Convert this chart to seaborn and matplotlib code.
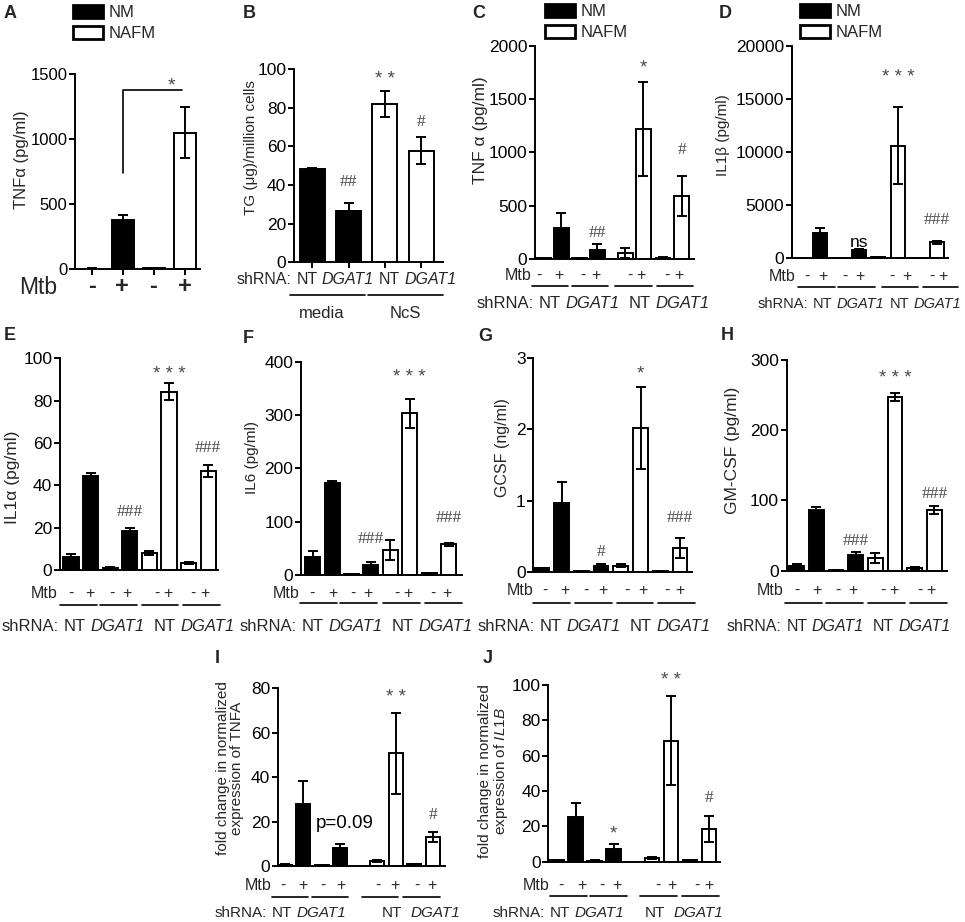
import numpy as np
import pandas as pd
import matplotlib
matplotlib.use("Agg")
import matplotlib.pyplot as plt
import matplotlib.transforms as mtransforms
from matplotlib.lines import Line2D
from matplotlib.patches import Patch
import seaborn as sns

sns.set_theme(style="ticks")
plt.rcParams["font.family"] = ["Liberation Sans", "DejaVu Sans"]
plt.rcParams["mathtext.fontset"] = "custom"
plt.rcParams["mathtext.rm"] = "Liberation Sans"
plt.rcParams["mathtext.it"] = "Liberation Sans:italic"

# ---------------- data (mean and error) ----------------
media4 = ["NM", "NM", "NAFM", "NAFM"]
media8 = ["NM"] * 4 + ["NAFM"] * 4
mtb4 = ["-", "+", "-", "+"]
mtb8 = ["-", "+"] * 4
shrna = ["NT", "DGAT1", "NT", "DGAT1"]

a_values = [5, 375, 8, 1050]
a_errors = [2, 42, 3, 197]

b_values = [48.3, 26.7, 82, 57.8]
b_errors = [0.4, 4, 6.5, 7]
b_marks = ["", "##", "**", "#"]
b_mark_y = [0, 41.5, 97, 72.5]

c_values = [10, 294, 5, 85, 53, 1218, 12, 595]
c_errors = [4, 135, 2, 53, 47, 440, 4, 188]
c_marks = ["", "", "", "##", "", "*", "", "#"]
c_mark_y = [0, 0, 0, 247, 0, 1837, 0, 1023]

d_values = [50, 2420, 20, 790, 100, 10600, 30, 1510]
d_errors = [10, 470, 10, 100, 30, 3640, 10, 150]
d_marks = ["", "", "", "ns", "", "***", "", "###"]
d_mark_y = [0, 0, 0, 1450, 0, 17360, 0, 3610]

e_values = [6.3, 44.5, 1.0, 18.6, 8.2, 84.3, 3.1, 46.8]
e_errors = [1.3, 1.1, 0.2, 1.3, 1.0, 3.9, 0.5, 3.0]
e_marks = ["", "", "", "###", "", "***", "", "###"]
e_mark_y = [0, 0, 0, 27.6, 0, 94.2, 0, 57.8]

f_values = [33, 173, 2, 18.8, 47, 303, 3, 57.5]
f_errors = [12.5, 4, 0.5, 5, 19, 27, 1, 3]
f_marks = ["", "", "", "###", "", "***", "", "###"]
f_mark_y = [0, 0, 0, 67, 0, 379, 0, 106]

g_values = [0.045, 0.96, 0.005, 0.08, 0.084, 2.02, 0.01, 0.33]
g_errors = [0.01, 0.3, 0.002, 0.035, 0.02, 0.57, 0.003, 0.14]
g_marks = ["", "", "", "#", "", "*", "", "###"]
g_mark_y = [0, 0, 0, 0.27, 0, 2.84, 0, 0.75]

h_values = [7, 86, 1, 22, 17.6, 247.8, 3.3, 86]
h_errors = [2.5, 4.7, 0.5, 4.7, 7, 5.7, 1.5, 5.7]
h_marks = ["", "", "", "###", "", "***", "", "###"]
h_mark_y = [0, 0, 0, 42.7, 0, 280, 0, 109]

i_values = [0.5, 27.9, 0.3, 8.3, 2.2, 50.7, 0.9, 12.9]
i_errors = [0.2, 10.4, 0.1, 1.6, 0.4, 18.3, 0.2, 2.3]
i_marks = ["", "", "", "", "", "**", "", "#"]
i_mark_y = [0, 0, 0, 0, 0, 77.7, 0, 23]

j_values = [0.8, 25.1, 0.5, 7.4, 1.9, 68.5, 0.8, 18.5]
j_errors = [0.2, 7.9, 0.2, 2.6, 0.5, 25.3, 0.2, 7.5]
j_marks = ["", "", "", "*", "", "**", "", "#"]
j_mark_y = [0, 0, 0, 18, 0, 104.7, 0, 35.8]

# ---------------- layout ----------------
W, H = 965, 922
fig = plt.figure(figsize=(W / 100, H / 100), dpi=100)
renderer = fig.canvas.get_renderer()
# pixel coordinates, origin at top-left
T = mtransforms.Affine2D().scale(1 / W, -1 / H).translate(0, 1) + fig.transFigure

PAL = {"NM": "black", "NAFM": "white"}
LW = 1.4
GREY = "#4a4a4a"


def add_ax(l, r, t, b):
    return fig.add_axes([l / W, 1 - b / H, (r - l) / W, (b - t) / H])


def ftext(x, y, s, **kw):
    return fig.text(x, y, s, transform=T, **kw)


def fline(x0, x1, y):
    fig.add_artist(Line2D([x0, x1], [y, y], transform=T, color="black", lw=1.2))


def token_row(x, y, gaps, fontsize):
    """'shRNA: NT DGAT1 NT DGAT1' written token by token, gene names in italics."""
    space = 0.278 * fontsize * 100 / 72
    tokens = ["shRNA:"] + shrna
    for k, s in enumerate(tokens):
        t = ftext(x, y, s, ha="left", va="center", fontsize=fontsize,
                  style="italic" if "DGAT" in s else "normal")
        x += t.get_window_extent(renderer=renderer).width
        if k < len(gaps):
            x += gaps[k] * space


def bar_panel(ax, slots, values, errors, media, width, ymax, step, xlim, tick_fs=12.5):
    df = pd.DataFrame({"slot": slots, "value": values, "medium": media})
    sns.barplot(data=df, x="slot", y="value", hue="medium", palette=PAL,
                hue_order=["NM", "NAFM"], native_scale=True, width=width,
                dodge=False, errorbar=None, edgecolor="black", linewidth=LW,
                legend=False, ax=ax)
    ax.errorbar(slots, values, yerr=errors, fmt="none", ecolor="black",
                elinewidth=LW, capsize=3.5, capthick=LW, zorder=5)
    ax.set_xlim(*xlim)
    ax.set_ylim(0, ymax)
    ax.set_yticks(np.arange(0, ymax + step / 2, step))
    ax.set_xlabel("")
    ax.set_ylabel("")
    sns.despine(ax=ax)
    for sp in ("left", "bottom"):
        ax.spines[sp].set_linewidth(LW)
        ax.spines[sp].set_color("black")
    ax.tick_params(axis="y", direction="out", length=4, width=LW,
                   labelsize=tick_fs, pad=1.5, colors="black")
    ax.set_xticks([])
    ax.tick_params(axis="x", length=0, labelbottom=False)


SHIFT = mtransforms.ScaledTranslation(0, -3 / 72, fig.dpi_scale_trans)


def add_marks(ax, slots, marks, ys):
    for x, s, y in zip(slots, marks, ys):
        if not s:
            continue
        if "#" in s:
            ax.text(x, y, s, ha="center", va="center", fontsize=12.5,
                    family="Liberation Serif", color=GREY)
        elif "*" in s:
            ax.text(x, y, " ".join(s), ha="center", va="center", fontsize=13.5,
                    color=GREY, transform=ax.transData + SHIFT)
        else:
            ax.text(x, y, s, ha="center", va="center", fontsize=12.5,
                    color="black")


def mtb_rows(lay):
    ftext(lay["mtb_right"], lay["mtb_y"], "Mtb", ha="right", va="center", fontsize=11.5)
    for x, s in zip(lay["signs"], mtb8):
        ftext(x, lay["mtb_y"], s, ha="center", va="center", fontsize=11.5)
    for x0, x1 in lay["lines"]:
        fline(x0, x1, lay["line_y"])
    token_row(lay["sh_x"], lay["sh_y"], lay["sh_gaps"], lay["sh_fs"])


def legend(ax, x, y):
    handles = [Patch(facecolor="black", edgecolor="black", lw=2, label="NM"),
               Patch(facecolor="white", edgecolor="black", lw=2, label="NAFM")]
    ax.legend(handles=handles, loc="upper left", bbox_to_anchor=(x, y),
              bbox_transform=T, frameon=False, fontsize=12, handlelength=1.8,
              handleheight=0.8, handletextpad=0.35, labelspacing=0.35,
              borderpad=0, borderaxespad=0)


slots4 = [0, 1, 2, 3]
slots8 = [0, 1, 2, 3, 4, 5, 6, 7]

# ---------------- A ----------------
ax = add_ax(75, 200, 74, 269.3)
bar_panel(ax, slots4, a_values, a_errors, media4, 0.7, 1500, 500, (-0.54, 3.48), tick_fs=12)
ax.set_xticks(slots4)
ax.tick_params(axis="x", length=4, width=LW, direction="out", colors="black")
ax.plot([1, 1, 2.9], [742, 1377, 1377], color="black", lw=1.2, clip_on=False)
ax.text(2.55, 1440, "*", ha="center", va="center", fontsize=14, color=GREY,
        transform=ax.transData + SHIFT)
legend(ax, 73, 5)
ftext(22, 160, "TNFα (pg/ml)", rotation=90, ha="center", va="center", fontsize=12)
ftext(38, 287, "Mtb", ha="center", va="center", fontsize=16.5)
for x, s in zip([91.7, 122.3, 153.3, 185], mtb4):
    ftext(x, 286, s, ha="center", va="center", fontsize=17, weight="bold")

# ---------------- B ----------------
ax = add_ax(294, 443, 69.3, 262.3)
bar_panel(ax, slots4, b_values, b_errors, media4, 0.69, 100, 20, (-0.5, 3.6))
ax.set_xticks(slots4)
ax.tick_params(axis="x", length=4, width=LW, direction="out", colors="black")
add_marks(ax, slots4, b_marks, b_mark_y)
ftext(251, 148, "TG (μg)/million cells", rotation=90, ha="center", va="center", fontsize=11)
token_row(237, 279, [1, 1, 1, 1], 11.5)
fline(290, 365, 295)
fline(368, 443, 295)
ftext(322, 313, "media", ha="center", va="center", fontsize=12)
ftext(405, 313, "NcS", ha="center", va="center", fontsize=12)

# ---------------- eight-bar panels ----------------
panels = [
    dict(rect=(535, 694.3, 46, 259), slots=[0, 1, 2, 3, 4.55, 5.55, 6.65, 7.7],
         width=0.83, ymax=2000, step=500, xlim=(-0.46, 8.39),
         data=(c_values, c_errors, c_marks, c_mark_y),
         ylabel="TNF α (pg/ml)", ylab_xy=(481, 130), ylab_fs=12.5,
         letter="C", letter_xy=(479, 13), legend=(545, 4),
         mtb_right=531, mtb_y=275, signs=[539, 559.3, 583.3, 596, 630, 640.7, 666.7, 679.3],
         line_y=285.7, lines=[(532, 568), (572, 608), (615, 652), (657, 693)],
         sh_x=477, sh_y=303, sh_gaps=[1, 1, 2, 1], sh_fs=12),
    dict(rect=(791.7, 948, 45.7, 258.3), slots=slots8, width=0.72, ymax=20000,
         step=5000, xlim=(-0.46, 7.58), data=(d_values, d_errors, d_marks, d_mark_y),
         ylabel="IL1β (pg/ml)", ylab_xy=(723, 135), ylab_fs=11,
         letter="D", letter_xy=(725, 13), legend=(800, 4),
         mtb_right=795, mtb_y=276.7, signs=[807, 823, 845, 860, 892, 907, 932, 943],
         line_y=286.7, lines=[(798, 835), (838, 875), (882, 918), (923, 958)],
         sh_x=758, sh_y=304, sh_gaps=[1, 1, 1.5, 1], sh_fs=10.5),
    dict(rect=(60, 218, 358.3, 570), slots=slots8, width=0.77, ymax=100, step=20,
         xlim=(-0.56, 7.5), data=(e_values, e_errors, e_marks, e_mark_y),
         ylabel="IL1α (pg/ml)", ylab_xy=(13, 477), ylab_fs=12.5,
         letter="E", letter_xy=(10, 335), legend=None,
         mtb_right=58, mtb_y=593.3, signs=[71, 90, 112, 127, 157, 168, 193, 205],
         line_y=605, lines=[(60, 97), (100, 137), (142, 178), (183, 220)],
         sh_x=2, sh_y=626, sh_gaps=[1, 1, 2, 1], sh_fs=12),
    dict(rect=(301, 461.7, 361.7, 575), slots=slots8, width=0.77, ymax=400, step=100,
         xlim=(-0.6, 7.68), data=(f_values, f_errors, f_marks, f_mark_y),
         ylabel="IL6 (pg/ml)", ylab_xy=(252, 457), ylab_fs=11,
         letter="F", letter_xy=(248, 338), legend=None,
         mtb_right=300, mtb_y=593.3, signs=[311.7, 332.7, 353, 367.7, 396.7, 408, 433, 446.7],
         line_y=603, lines=[(300, 337), (340, 377), (383, 420), (425, 462)],
         sh_x=240, sh_y=626, sh_gaps=[1, 1, 2, 1], sh_fs=12),
    dict(rect=(533.3, 691.7, 358.3, 571.7), slots=slots8, width=0.74, ymax=3, step=1,
         xlim=(-0.43, 7.59), data=(g_values, g_errors, g_marks, g_mark_y),
         ylabel="GCSF (ng/ml)", ylab_xy=(503, 448), ylab_fs=11.5,
         letter="G", letter_xy=(485, 336), legend=None,
         mtb_right=533, mtb_y=590, signs=[545, 565, 586, 602.7, 626.7, 643, 666.7, 680],
         line_y=603, lines=[(533, 570), (575, 612), (617, 653), (658, 695)],
         sh_x=478, sh_y=626, sh_gaps=[1, 1, 2, 1], sh_fs=12),
    dict(rect=(786.7, 946.7, 360, 570.7), slots=slots8, width=0.75, ymax=300, step=100,
         xlim=(-0.51, 7.63), data=(h_values, h_errors, h_marks, h_mark_y),
         ylabel="GM-CSF (pg/ml)", ylab_xy=(733, 450), ylab_fs=12.5,
         letter="H", letter_xy=(727, 335), legend=None,
         mtb_right=783, mtb_y=590, signs=[796.7, 816.7, 838, 853, 883, 894, 920, 930.7],
         line_y=603, lines=[(785, 822), (826, 863), (868, 905), (910, 947)],
         sh_x=727, sh_y=626, sh_gaps=[1, 1, 2, 1], sh_fs=11.5),
    dict(rect=(277.7, 445, 688.3, 866), slots=[0, 1, 2, 3, 5, 6, 7, 8], width=0.76,
         ymax=80, step=20, xlim=(-0.39, 8.65), data=(i_values, i_errors, i_marks, i_mark_y),
         ylabel="fold change in normalized\nexpression of TNFA", ylab_xy=(230, 768), ylab_fs=11,
         letter="I", letter_xy=(217, 658), legend=None,
         mtb_right=272, mtb_y=885, signs=[283.3, 303.3, 323.3, 340.7, 378.3, 395, 416.7, 431.7],
         line_y=896.7, lines=[(271.7, 308.3), (311.7, 348.3), (361.7, 398.3), (403.3, 440)],
         sh_x=215, sh_y=913.3, sh_gaps=[1, 1, 8.5, 2], sh_fs=11),
    dict(rect=(548.3, 720, 685, 861.7), slots=[0, 1, 2, 3, 5, 6, 7, 8], width=0.76,
         ymax=100, step=20, xlim=(-0.44, 8.59), data=(j_values, j_errors, j_marks, j_mark_y),
         ylabel="fold change in normalized\nexpression of $\\mathit{IL1B}$", ylab_xy=(494, 771),
         ylab_fs=11, letter="J", letter_xy=(488, 658), legend=None,
         mtb_right=550, mtb_y=885.7, signs=[560.7, 581.7, 601.7, 616.7, 658.3, 671.7, 696.7, 709.3],
         line_y=896, lines=[(550, 586.7), (590, 627.3), (640, 677.3), (681.7, 719.3)],
         sh_x=493, sh_y=913, sh_gaps=[1, 1, 5, 2], sh_fs=11),
]

for lay in panels:
    values, errors, marks, mark_y = lay["data"]
    ax = add_ax(*lay["rect"])
    bar_panel(ax, lay["slots"], values, errors, media8, lay["width"],
              lay["ymax"], lay["step"], lay["xlim"])
    add_marks(ax, lay["slots"], marks, mark_y)
    if lay["legend"] is not None:
        legend(ax, *lay["legend"])
    ftext(*lay["ylab_xy"], lay["ylabel"], rotation=90, ha="center", va="center",
          fontsize=lay["ylab_fs"], linespacing=1.05)
    ftext(*lay["letter_xy"], lay["letter"], ha="center", va="center",
          fontsize=13, weight="bold")
    mtb_rows(lay)
    if lay["letter"] == "I":
        ax.text(3.25, 19.2, "p=0.09", ha="center", va="center", fontsize=13.5, color="black")

ftext(10, 13, "A", ha="center", va="center", fontsize=13, weight="bold")
ftext(249, 13, "B", ha="center", va="center", fontsize=13, weight="bold")

fig.savefig("out.png", dpi=100)
